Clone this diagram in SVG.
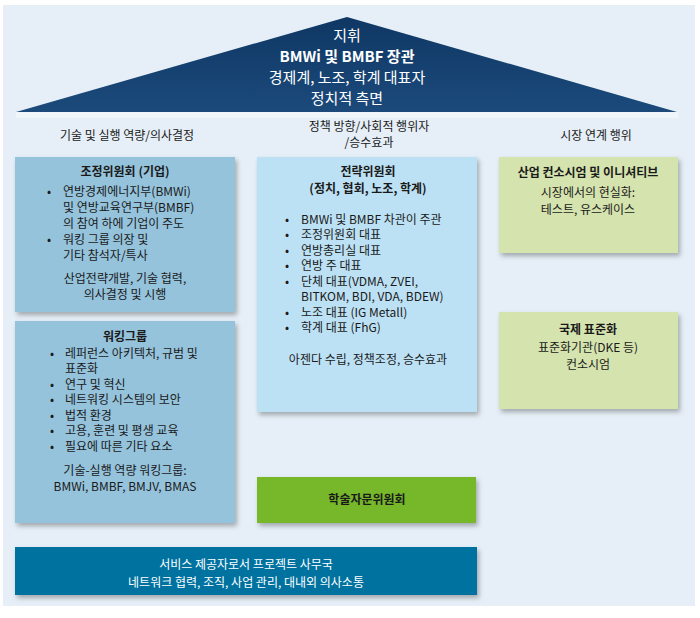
<svg xmlns="http://www.w3.org/2000/svg" width="700" height="618" viewBox="0 0 700 618">
<defs>
<linearGradient id="roofGrad" x1="0" y1="0" x2="0" y2="1">
<stop offset="0" stop-color="#0f3764"/>
<stop offset="1" stop-color="#1b4a7b"/>
</linearGradient>
<filter id="sh" x="-10%" y="-10%" width="125%" height="130%">
<feDropShadow dx="2" dy="3" stdDeviation="2.5" flood-color="#000" flood-opacity="0.3"/>
</filter>
<style>
text{font-family:"Malgun Gothic","Noto Sans CJK KR","Noto Sans",sans-serif;font-size:12px;fill:#1a1a1a}
.c{text-anchor:middle}
.b{font-weight:bold}
.w{fill:#ffffff}
.roof{font-size:15px}
.lb{fill:#95c3dc}
.mb{fill:#bde1f4}
.rb{fill:#d5e3ae}
</style>
</defs>
<rect x="0" y="0" width="700" height="618" fill="#ffffff"/>
<rect x="3" y="5" width="692" height="601" fill="#e6eff7"/>

<g id="roof">
<rect x="16" y="112" width="662" height="6" fill="#f2f6fa" opacity="0.8"/>
<polygon points="347,17 677,112 16,112" fill="url(#roofGrad)"/>
<text class="c w roof"><tspan x="347" y="41">지휘</tspan><tspan x="347" y="62" class="b">BMWi 및 BMBF 장관</tspan><tspan x="347" y="83">경제계, 노조, 학계 대표자</tspan><tspan x="347" y="104">정치적 측면</tspan></text>
</g>

<g id="headers">
<text class="c" x="127" y="140">기술 및 실행 역량/의사결정</text>
<text class="c"><tspan x="369" y="131">정책 방향/사회적 행위자</tspan><tspan x="369" y="147">/승수효과</tspan></text>
<text class="c" x="596" y="140">시장 연계 행위</text>
</g>

<g id="coord-committee">
<rect class="lb" x="15" y="157" width="220" height="155" filter="url(#sh)"/>
<text class="c b" x="125" y="176">조정위원회 (기업)</text>
<text><tspan x="47" y="196">•</tspan><tspan x="63" y="196">연방경제에너지부(BMWi)</tspan><tspan x="63" y="212">및 연방교육연구부(BMBF)</tspan><tspan x="63" y="228">의 참여 하에 기업이 주도</tspan><tspan x="47" y="244">•</tspan><tspan x="63" y="244">워킹 그룹 의장 및</tspan><tspan x="63" y="260">기타 참석자/특사</tspan></text>
<text class="c"><tspan x="125" y="283">산업전략개발, 기술 협력,</tspan><tspan x="125" y="299">의사결정 및 시행</tspan></text>
</g>

<g id="working-group">
<rect class="lb" x="15" y="321" width="220" height="202" filter="url(#sh)"/>
<text class="c b" x="125" y="341">워킹그룹</text>
<text><tspan x="50" y="358">•</tspan><tspan x="65" y="358">레퍼런스 아키텍처, 규범 및</tspan><tspan x="65" y="373">표준화</tspan><tspan x="50" y="389">•</tspan><tspan x="65" y="389">연구 및 혁신</tspan><tspan x="50" y="404">•</tspan><tspan x="65" y="404">네트워킹 시스템의 보안</tspan><tspan x="50" y="420">•</tspan><tspan x="65" y="420">법적 환경</tspan><tspan x="50" y="435">•</tspan><tspan x="65" y="435">고용, 훈련 및 평생 교육</tspan><tspan x="50" y="451">•</tspan><tspan x="65" y="451">필요에 따른 기타 요소</tspan></text>
<text class="c"><tspan x="125" y="475">기술-실행 역량 워킹그룹:</tspan><tspan x="125" y="491">BMWi, BMBF, BMJV, BMAS</tspan></text>
</g>

<g id="strategy-committee">
<rect class="mb" x="257" y="157" width="220" height="255" filter="url(#sh)"/>
<text class="c b"><tspan x="368" y="176">전략위원회</tspan><tspan x="368" y="193">(정치, 협회, 노조, 학계)</tspan></text>
<text><tspan x="285" y="224">•</tspan><tspan x="301" y="224">BMWi 및 BMBF 차관이 주관</tspan><tspan x="285" y="239">•</tspan><tspan x="301" y="239">조정위원회 대표</tspan><tspan x="285" y="255">•</tspan><tspan x="301" y="255">연방총리실 대표</tspan><tspan x="285" y="270">•</tspan><tspan x="301" y="270">연방 주 대표</tspan><tspan x="285" y="286">•</tspan><tspan x="301" y="286">단체 대표(VDMA, ZVEI,</tspan><tspan x="301" y="301">BITKOM, BDI, VDA, BDEW)</tspan><tspan x="285" y="317">•</tspan><tspan x="301" y="317">노조 대표 (IG Metall)</tspan><tspan x="285" y="332">•</tspan><tspan x="301" y="332">학계 대표 (FhG)</tspan></text>
<text class="c" x="368" y="364">아젠다 수립, 정책조정, 승수효과</text>
</g>

<g id="academic-council">
<rect x="257" y="477" width="219" height="46" fill="#76b82a" filter="url(#sh)"/>
<text class="c b" x="367" y="504">학술자문위원회</text>
</g>

<g id="industry-consortia">
<rect class="rb" x="499" y="157" width="179" height="96" filter="url(#sh)"/>
<text class="c b" x="588" y="177">산업 컨소시엄 및 이니셔티브</text>
<text class="c"><tspan x="588" y="197">시장에서의 현실화:</tspan><tspan x="588" y="214">테스트, 유스케이스</tspan></text>
</g>

<g id="intl-standardization">
<rect class="rb" x="499" y="312" width="179" height="97" filter="url(#sh)"/>
<text class="c b" x="588" y="334">국제 표준화</text>
<text class="c"><tspan x="588" y="352">표준화기관(DKE  등)</tspan><tspan x="588" y="369">컨소시엄</tspan></text>
</g>

<g id="project-office">
<rect x="15" y="547" width="462" height="48" fill="#06729f" filter="url(#sh)"/>
<text class="c w"><tspan x="246" y="569">서비스 제공자로서 프로젝트 사무국</tspan><tspan x="246" y="587">네트워크 협력, 조직, 사업 관리, 대내외 의사소통</tspan></text>
</g>

<g id="connectors"></g>
</svg>
